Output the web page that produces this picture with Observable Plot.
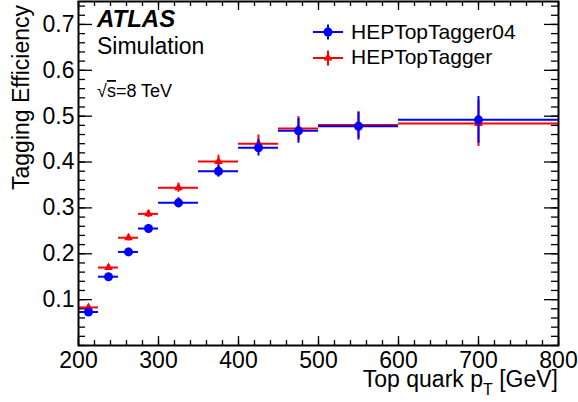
<!DOCTYPE html>
<html>
<head>
<meta charset="utf-8">
<script src="https://cdn.jsdelivr.net/npm/d3@7"></script>
<script src="https://cdn.jsdelivr.net/npm/@observablehq/plot@0.6"></script>
<style>
html, body { margin: 0; padding: 0; background: #fff; overflow: hidden; }
#chart svg { display: block; }
</style>
</head>
<body>
<div id="chart"></div>
<script>
// Bins of top-quark pT [GeV]
const binLo = [200, 225, 250, 275, 300, 350, 400, 450, 500, 600];
const binHi = [225, 250, 275, 300, 350, 400, 450, 500, 600, 800];
// HEPTopTagger04 (blue)
const effBlue = [0.073, 0.150, 0.204, 0.255, 0.311, 0.380, 0.431, 0.468, 0.478, 0.492];
const errBlue = [0.006, 0.007, 0.008, 0.009, 0.011, 0.013, 0.018, 0.027, 0.030, 0.051];
// HEPTopTagger (red)
const effRed = [0.083, 0.170, 0.235, 0.287, 0.344, 0.401, 0.440, 0.473, 0.481, 0.484];
const errRed = [0.005, 0.006, 0.007, 0.008, 0.010, 0.014, 0.019, 0.026, 0.029, 0.050];

const seriesNames = ["HEPTopTagger04", "HEPTopTagger"];
const seriesColors = ["#0000ff", "#ff0000"];

const xMajor = [200, 300, 400, 500, 600, 700, 800];
const yMajor = [0.1, 0.2, 0.3, 0.4, 0.5, 0.6, 0.7];

const rows = (eff, err) => binLo.map((lo, i) => ({
  lo, hi: binHi[i], mid: (lo + binHi[i]) / 2, v: eff[i], e: err[i]
}));
const blue = rows(effBlue, errBlue);
const red = rows(effRed, errRed);

const W = 578, H = 402;
const mL = 78, mR = 20, mT = 1, mB = 57;
const fw = W - mL - mR, fh = H - mT - mB;

const xMinor = d3.range(200, 801, 20);
const yMinor = d3.range(0, 0.7501, 0.02).map(d => +d.toFixed(2));

function series(data, color, symbol, r) {
  return [
    Plot.ruleY(data, {y: "v", x1: "lo", x2: "hi", stroke: color, strokeWidth: 2}),
    Plot.ruleX(data, {x: "mid", y1: d => d.v - d.e, y2: d => d.v + d.e, stroke: color, strokeWidth: 2}),
    Plot.dot(data, {x: "mid", y: "v", fill: color, stroke: "none", symbol, r})
  ];
}

const plot = Plot.plot({
  width: W, height: H,
  marginLeft: mL, marginRight: mR, marginTop: mT, marginBottom: mB,
  style: {fontFamily: "'Liberation Sans', Arial, sans-serif", fontSize: "23px", background: "#fff", color: "#000"},
  x: {domain: [200, 800]},
  y: {domain: [0, 0.75]},
  marks: [
    // inward ticks (ROOT style) on all four sides
    Plot.tickX(xMinor, {x: d => d, insetTop: fh - 5, stroke: "#000", strokeWidth: 1.3}),
    Plot.tickX(xMinor, {x: d => d, insetBottom: fh - 5, stroke: "#000", strokeWidth: 1.3}),
    Plot.tickX(xMajor, {x: d => d, insetTop: fh - 9, stroke: "#000", strokeWidth: 1.3}),
    Plot.tickX(xMajor, {x: d => d, insetBottom: fh - 9, stroke: "#000", strokeWidth: 1.3}),
    Plot.tickY(yMinor, {y: d => d, insetRight: fw - 7, stroke: "#000", strokeWidth: 1.3}),
    Plot.tickY(yMinor, {y: d => d, insetLeft: fw - 7, stroke: "#000", strokeWidth: 1.3}),
    Plot.tickY(yMajor, {y: d => d, insetRight: fw - 14, stroke: "#000", strokeWidth: 1.3}),
    Plot.tickY(yMajor, {y: d => d, insetLeft: fw - 14, stroke: "#000", strokeWidth: 1.3}),
    Plot.axisX({ticks: xMajor, tickSize: 0, tickPadding: 6, label: null, tickFormat: d3.format("d"), fontSize: 23}),
    Plot.axisY({ticks: yMajor, tickSize: 0, tickPadding: 4, label: null, tickFormat: d3.format(".1f"), fontSize: 23}),
    ...series(red, seriesColors[1], "triangle", 3.2),
    ...series(blue, seriesColors[0], "circle", 4.5),
    Plot.frame({stroke: "#000", strokeWidth: 2})
  ]
});

document.getElementById("chart").appendChild(plot);

const svg = d3.select(plot);
const ff = "'Liberation Sans', Arial, sans-serif";

// Axis titles
svg.append("text")
  .attr("transform", "translate(29,5) rotate(-90)")
  .attr("text-anchor", "end")
  .attr("font-family", ff).attr("font-size", 23)
  .text("Tagging Efficiency");

const xt = svg.append("text")
  .attr("x", 558).attr("y", 387)
  .attr("text-anchor", "end")
  .attr("font-family", ff).attr("font-size", 23);
xt.append("tspan").text("Top quark p");
xt.append("tspan").attr("dy", 8).attr("font-size", 16).text("T");
xt.append("tspan").attr("dy", -8).text(" [GeV]");

// ATLAS label
svg.append("text").attr("x", 97).attr("y", 27).attr("text-anchor", "start")
  .attr("font-family", ff).attr("font-size", 24)
  .attr("font-weight", "bold").attr("font-style", "italic")
  .text("ATLAS");
svg.append("text").attr("x", 97).attr("y", 54).attr("text-anchor", "start")
  .attr("font-family", ff).attr("font-size", 23)
  .text("Simulation");
const rs = svg.append("text").attr("x", 97).attr("y", 97).attr("text-anchor", "start")
  .attr("font-family", ff).attr("font-size", 18);
rs.append("tspan").text("\u221A");
rs.append("tspan").attr("text-decoration", "overline").text("s");
rs.append("tspan").text("=8 TeV");

// Legend
const legY = [32, 58];
const legBase = [39, 64];
seriesNames.forEach((name, i) => {
  const c = seriesColors[i];
  const g = svg.append("g");
  g.append("line").attr("x1", 313).attr("x2", 343).attr("y1", legY[i]).attr("y2", legY[i])
    .attr("stroke", c).attr("stroke-width", 2);
  g.append("line").attr("x1", 328).attr("x2", 328).attr("y1", legY[i] - 7.5).attr("y2", legY[i] + 7.5)
    .attr("stroke", c).attr("stroke-width", 2);
  if (i === 0) {
    g.append("circle").attr("cx", 328).attr("cy", legY[i]).attr("r", 4.5).attr("fill", c);
  } else {
    g.append("path").attr("transform", `translate(328,${legY[i]})`)
      .attr("d", d3.symbol(d3.symbolTriangle, Math.PI * 3.2 * 3.2)()).attr("fill", c);
  }
  g.append("text").attr("x", 351).attr("y", legBase[i]).attr("text-anchor", "start")
    .attr("font-family", ff).attr("font-size", 21).text(name);
});
</script>
</body>
</html>
